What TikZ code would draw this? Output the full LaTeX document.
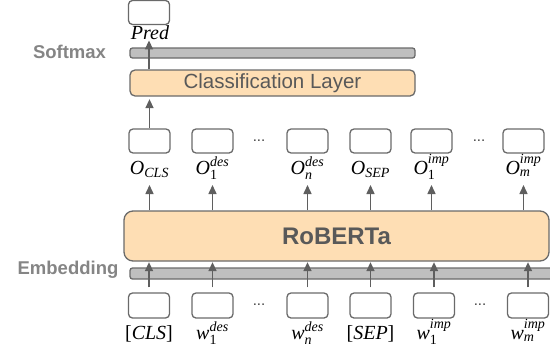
\documentclass[tikz,border=0pt]{standalone}
\usepackage{amsmath}
\usepackage{fontspec}
\setmainfont{Liberation Sans}
\newfontfamily\labfont{Liberation Serif}
\usetikzlibrary{arrows.meta}
\definecolor{edge}{HTML}{6A6A6A}
\definecolor{arrowc}{HTML}{5F5F5F}
\definecolor{peach}{RGB}{254,222,180}
\definecolor{barc}{HTML}{BFBFBF}
\definecolor{sidetext}{HTML}{858585}
\definecolor{maintext}{HTML}{595959}
\newcommand{\tlab}[3]{$\text{#1}^{\text{#2}}_{\text{#3}}$}
\newcommand{\slab}[2]{$\text{#1}_{\text{#2}}$}
\begin{document}
\begin{tikzpicture}[x=1pt,y=-1pt,
  tok/.style={draw=edge, line width=1.3pt, rounded corners=4pt, fill=white,
    minimum width=41pt, minimum height=24pt, inner sep=0pt},
  barbox/.style={draw=edge, fill=barc, line width=1.3pt, rounded corners=2.5pt, inner sep=0pt},
  layerbox/.style={draw=edge, fill=peach, line width=1.3pt, inner sep=0pt},
  arr/.style={draw=arrowc, line width=1.5pt, -{Triangle[length=9pt,width=8pt]}},
  lbl/.style={anchor=base, inner sep=1pt, font=\fontsize{20}{22}\selectfont\labfont\itshape},
  side/.style={text=sidetext, font=\fontsize{18.5}{20}\selectfont\bfseries},
  dotsn/.style={text=black!75, font=\fontsize{15}{16}\selectfont}]
\useasboundingbox (0,0) rectangle (550,354);

% bars
\node[barbox, minimum width=285pt, minimum height=10pt] (soft) at (272.5,53) {};
\node[barbox, minimum width=435pt, minimum height=11pt] (emb) at (347.5,273.5) {};
\node[side] (softlbl) at (69.5,52) {Softmax};
\node[side] (emblbl) at (68,270) {Embedding};

% layers
\node[layerbox, rounded corners=5pt, minimum width=285pt, minimum height=26pt,
  text=maintext, font=\fontsize{20.5}{22}\selectfont] (cl) at (272.5,83) {Classification Layer};
\node[layerbox, rounded corners=9pt, minimum width=425pt, minimum height=50pt,
  text=maintext, font=\fontsize{24}{26}\selectfont\bfseries] (rob) at (336.5,236) {RoBERTa};

% prediction
\node[tok] (pred) at (149,12.5) {};
\node[lbl] (predl) at (150,39) {Pred};

% output tokens
\node[tok] (o1) at (149.5,141) {};
\node[tok] (o2) at (212.5,141) {};
\node[tok] (o3) at (307.5,141) {};
\node[tok] (o4) at (370.5,141) {};
\node[tok] (o5) at (431.5,141) {};
\node[tok] (o6) at (523.5,141) {};
\node[dotsn] (od1) at (259,141) {...};
\node[dotsn] (od2) at (479,141) {...};
\node[lbl] (ol1) at (149.5,174) {\slab{O}{CLS}};
\node[lbl] (ol2) at (212.5,174) {\tlab{O}{des}{\upshape 1}};
\node[lbl] (ol3) at (307.5,174) {\tlab{O}{des}{n}};
\node[lbl] (ol4) at (370.5,174) {\slab{O}{SEP}};
\node[lbl] (ol5) at (431.5,174) {\tlab{O}{imp}{\upshape 1}};
\node[lbl] (ol6) at (523.5,174) {\tlab{O}{imp}{m}};
\coordinate (orow) at (0,185);

% input tokens
\node[tok, minimum height=25pt] (i1) at (149,305.5) {};
\node[tok, minimum height=25pt] (i2) at (212.5,305.5) {};
\node[tok, minimum height=25pt] (i3) at (307.5,305.5) {};
\node[tok, minimum height=25pt] (i4) at (370.5,305.5) {};
\node[tok, minimum height=25pt] (i5) at (434,305.5) {};
\node[tok, minimum height=25pt] (i6) at (528,305.5) {};
\node[dotsn] (id1) at (259,305) {...};
\node[dotsn] (id2) at (480,305) {...};
\node[lbl] (il1) at (149,339) {{\upshape[}CLS{\upshape]}};
\node[lbl] (il2) at (212.5,339) {\tlab{w}{des}{\upshape 1}};
\node[lbl] (il3) at (307.5,339) {\tlab{w}{des}{n}};
\node[lbl] (il4) at (370.5,339) {{\upshape[}SEP{\upshape]}};
\node[lbl] (il5) at (434,339) {\tlab{w}{imp}{\upshape 1}};
\node[lbl] (il6) at (528,339) {\tlab{w}{imp}{m}};

% arrows
\draw[arr] (cl.north -| pred) -- (pred |- predl.south);
\draw[arr, shorten >=2.5pt] (o1.north) -- (o1.north |- cl.south);
\foreach \k in {1,...,6}{
  \draw[arr] (o\k |- rob.north) -- (o\k |- orow);
  \draw[arr, shorten <=5pt, shorten >=0.5pt] (i\k.north) -- (i\k.north |- rob.south);
}
\end{tikzpicture}
\end{document}
